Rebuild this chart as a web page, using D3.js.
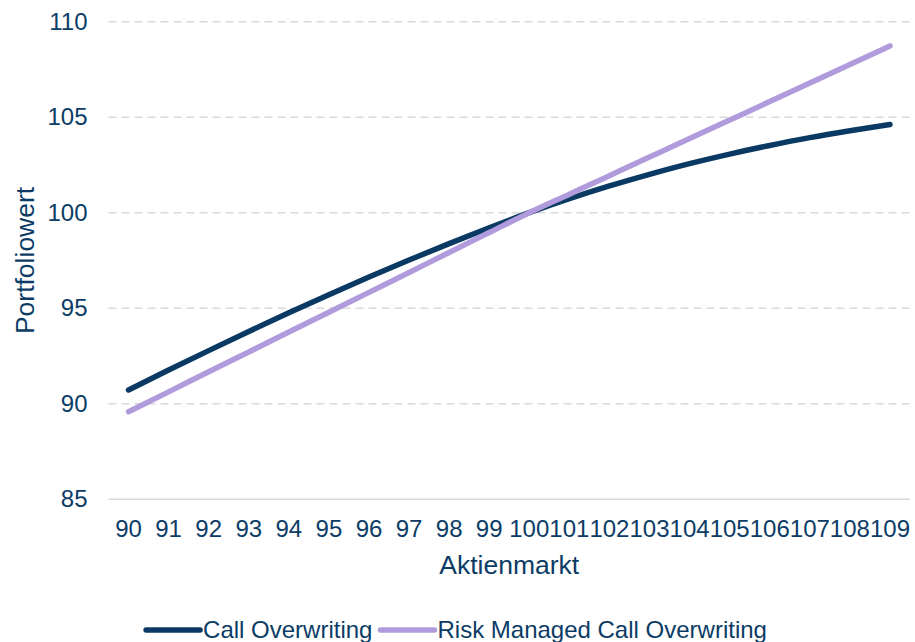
<!DOCTYPE html>
<html>
<head>
<meta charset="utf-8">
<script src="https://cdn.jsdelivr.net/npm/d3@7"></script>
<style>
  html, body { margin: 0; padding: 0; background: #ffffff; }
  svg { display: block; font-family: "Liberation Sans", Arial, sans-serif; }
</style>
</head>
<body>
<svg id="chart" width="915" height="642"></svg>
<script>
// ---- data ----
const categories = ["90","91","92","93","94","95","96","97","98","99","100","101","102","103","104","105","106","107","108","109"];
const callOverwriting = [90.72, 91.76, 92.78, 93.78, 94.76, 95.71, 96.63, 97.52, 98.38, 99.21, 100.0, 100.73, 101.40, 102.01, 102.57, 103.07, 103.52, 103.93, 104.29, 104.62];
const riskManagedCallOverwriting = [89.58, 90.62, 91.67, 92.71, 93.75, 94.79, 95.83, 96.87, 97.92, 98.96, 100.0, 100.97, 101.94, 102.91, 103.88, 104.85, 105.82, 106.79, 107.76, 108.73];
const yTicks = [85, 90, 95, 100, 105, 110];
const seriesNames = ["Call Overwriting", "Risk Managed Call Overwriting"];
const xTitle = "Aktienmarkt";
const yTitle = "Portfoliowert";

// ---- layout ----
const textColor = "#0c3c66";
const colors = ["#0a3a63", "#b19bdc"];
const plotLeft = 108.5, plotRight = 910, plotTop = 21.7, plotBottom = 499.2;

const svg = d3.select("#chart");

const x = d3.scaleBand().domain(categories).range([plotLeft, plotRight]).padding(0);
const y = d3.scaleLinear().domain([85, 110]).range([plotBottom, plotTop]);
const cx = d => x(d) + x.bandwidth() / 2;

// gridlines
svg.append("g").selectAll("line")
  .data(yTicks.filter(t => t !== 85))
  .join("line")
  .attr("x1", plotLeft).attr("x2", plotRight)
  .attr("y1", d => y(d)).attr("y2", d => y(d))
  .attr("stroke", "#d9d9d9")
  .attr("stroke-width", 1.5)
  .attr("stroke-dasharray", "8,5");

// bottom axis line
svg.append("line")
  .attr("x1", plotLeft).attr("x2", plotRight)
  .attr("y1", y(85)).attr("y2", y(85))
  .attr("stroke", "#d9d9d9").attr("stroke-width", 1.5);

// y axis labels
const yAxis = d3.axisLeft(y).tickValues(yTicks).tickSize(0).tickPadding(0).tickFormat(d3.format("d"));
const gy = svg.append("g").attr("transform", `translate(${87.5},0)`).call(yAxis);
gy.select(".domain").remove();
gy.selectAll("text")
  .attr("fill", textColor)
  .style("font-size", "24px")
  .style("font-family", "\"Liberation Sans\", Arial, sans-serif");

// x axis labels
const xAxis = d3.axisBottom(x).tickSize(0).tickPadding(0);
const gx = svg.append("g").attr("transform", `translate(0,${plotBottom})`).call(xAxis);
gx.select(".domain").remove();
gx.selectAll("text")
  .attr("fill", textColor)
  .attr("y", 29).attr("dy", "0.35em")
  .style("font-size", "24px")
  .style("font-family", "\"Liberation Sans\", Arial, sans-serif");

// axis titles
svg.append("text")
  .attr("x", (plotLeft + plotRight) / 2).attr("y", 565).attr("dy", "0.35em")
  .attr("text-anchor", "middle")
  .attr("fill", textColor).style("font-size", "26.5px")
  .text(xTitle);

svg.append("text")
  .attr("transform", `translate(25,${(plotTop + plotBottom) / 2}) rotate(-90)`)
  .attr("dy", "0.35em")
  .attr("text-anchor", "middle")
  .attr("fill", textColor).style("font-size", "26.5px")
  .text(yTitle);

// lines
const line = d3.line().x((d, i) => cx(categories[i])).y(d => y(d)).curve(d3.curveMonotoneX);
const series = [callOverwriting, riskManagedCallOverwriting];
svg.append("g").selectAll("path")
  .data(series)
  .join("path")
  .attr("d", d => line(d))
  .attr("fill", "none")
  .attr("stroke", (d, i) => colors[i])
  .attr("stroke-width", 5.5)
  .attr("stroke-linecap", "round")
  .attr("stroke-linejoin", "round");

// legend
const legendY = 630;
const lineLen = 56, gapText = 3, gapItem = 6;
const lg = svg.append("g");
let cursor = 0;
seriesNames.forEach((name, i) => {
  const g = lg.append("g");
  g.append("line")
    .attr("x1", cursor + 2).attr("x2", cursor + lineLen)
    .attr("y1", 0).attr("y2", 0)
    .attr("stroke", colors[i]).attr("stroke-width", 5.5).attr("stroke-linecap", "round");
  const t = g.append("text")
    .attr("x", cursor + lineLen + gapText).attr("y", 0).attr("dy", "0.35em")
    .attr("fill", textColor).style("font-size", "24px")
    .text(name);
  const w = t.node().getComputedTextLength();
  cursor += lineLen + gapText + w + gapItem;
});
const total = cursor - gapItem;
lg.attr("transform", `translate(${455.5 - total / 2},${legendY})`);
</script>
</body>
</html>
